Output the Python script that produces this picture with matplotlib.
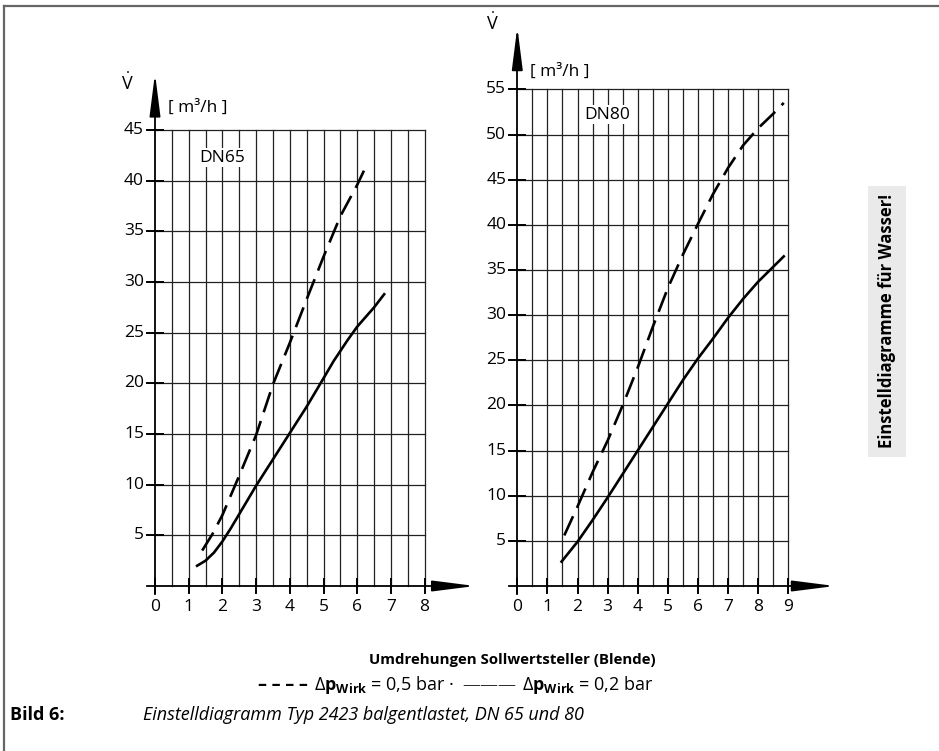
import numpy as np
import matplotlib
matplotlib.use('Agg')
import matplotlib.pyplot as plt
from matplotlib.patches import Rectangle
from matplotlib.lines import Line2D

plt.rcParams['font.family'] = ['Open Sans', 'DejaVu Sans']
plt.rcParams['mathtext.fontset'] = 'custom'
plt.rcParams['mathtext.rm'] = 'Open Sans'
plt.rcParams['mathtext.bf'] = 'Open Sans:bold'
plt.rcParams['mathtext.fallback'] = 'stixsans'

# DN65 curves (revolutions, flow m3/h)
x65_05 = [1.4, 1.7, 2.0, 2.5, 3.0, 3.5, 4.0, 4.5, 5.0, 5.5, 6.0, 6.2]
v65_05 = [3.5, 5.1, 7.0, 10.9, 14.9, 19.9, 24.0, 28.3, 32.5, 36.5, 39.6, 41.0]
x65_02 = [1.25, 1.5, 1.75, 2.0, 2.25, 2.5, 3.0, 3.5, 4.0, 4.5, 5.0, 5.3, 5.7, 6.0, 6.5, 6.8]
v65_02 = [2.0, 2.5, 3.3, 4.4, 5.7, 7.1, 9.9, 12.5, 15.1, 17.7, 20.5, 22.2, 24.2, 25.6, 27.5, 28.8]

# DN80 curves
x80_05 = [1.56, 2.0, 2.5, 3.0, 3.5, 4.0, 4.5, 5.0, 5.5, 6.0, 6.5, 7.0, 7.5, 8.0, 8.5, 8.85]
v80_05 = [5.6, 8.8, 12.6, 16.1, 20.0, 24.2, 28.7, 33.0, 36.7, 40.1, 43.4, 46.3, 48.8, 50.7, 52.3, 53.5]
x80_02 = [1.47, 2.0, 2.5, 3.0, 3.5, 4.0, 4.5, 5.0, 5.5, 6.0, 6.5, 7.0, 7.5, 8.0, 8.85]
v80_02 = [2.7, 4.9, 7.3, 9.8, 12.4, 15.0, 17.6, 20.2, 22.8, 25.2, 27.4, 29.7, 31.8, 33.7, 36.5]

yt65 = list(range(5, 50, 5))
yt80 = list(range(5, 60, 5))
xt65 = list(range(0, 9))
xt80 = list(range(0, 10))

W, H = 939, 751
fig = plt.figure(figsize=(W / 100, H / 100), dpi=100)


def make_ax(x0, sx, y0, sy, xlim, ylim):
    left = (x0 + xlim[0] * sx) / W
    width = (xlim[1] - xlim[0]) * sx / W
    bottom = (H - (y0 - ylim[0] * sy)) / H
    height = (ylim[1] - ylim[0]) * sy / H
    ax = fig.add_axes([left, bottom, width, height])
    ax.set_xlim(xlim)
    ax.set_ylim(ylim)
    ax.patch.set_alpha(0)
    return ax


def draw_chart(ax, xt, yt, xmax, ymax, sx, sy, tip_y, arrow_x):
    # grid
    for xv in np.arange(0.5, xmax + 0.01, 0.5):
        ax.plot([xv, xv], [0, ymax], color='#222222', lw=0.9, zorder=1)
    for yv in yt:
        ax.plot([0, xmax], [yv, yv], color='#222222', lw=0.9, zorder=1)
    # axes lines with arrows
    ax.plot([-8 / sx, arrow_x[0]], [0, 0], color='black', lw=1.3, zorder=3)
    ax.plot([0, 0], [-8 / sy, tip_y - 36 / sy], color='black', lw=1.3, zorder=3)
    head = dict(arrowstyle='-|>,head_length=2.6,head_width=0.33', color='black',
                lw=1.3, shrinkA=0, shrinkB=0, mutation_scale=10)
    ax.annotate('', xy=(arrow_x[1], 0), xytext=(arrow_x[0], 0), arrowprops=head)
    ax.annotate('', xy=(0, tip_y), xytext=(0, tip_y - 37 / sy), arrowprops=head)
    # ticks and labels
    for xv in xt:
        ax.plot([xv, xv], [-7 / sy, 7 / sy], color='black', lw=1.4, zorder=3)
        ax.text(xv, -13 / sy, str(xv), ha='center', va='top', fontsize=12.5)
    for yv in yt:
        ax.plot([-8 / sx, 8 / sx], [yv, yv], color='black', lw=1.4, zorder=3)
        ax.text(-11 / sx, yv, str(yv), ha='right', va='center', fontsize=12.5)
    ax.axis('off')


# left chart DN65
sx1, sy1 = 33.7, 10.13
ax1 = make_ax(155, sx1, 586, sy1, (-1.5, 10), (-3, 52))
draw_chart(ax1, xt65, yt65, 8, 45, sx1, sy1, 50.6, (8.4, 9.5))
ax1.plot(x65_05, v65_05, color='black', lw=1.9, dashes=(8, 3.5), zorder=4)
ax1.plot(x65_02, v65_02, color='black', lw=1.9, zorder=4)
ax1.text(2.0, 42.3, 'DN65', ha='center', va='center', fontsize=12.5,
         bbox=dict(facecolor='white', edgecolor='none', pad=1), zorder=5)
ax1.text(-28 / sx1, 49.6, r'$\dot{\mathrm{V}}$', ha='center', va='center', fontsize=13)
ax1.text(13 / sx1, 47.2, '[ m³/h ]', ha='left', va='center', fontsize=12.5)

# right chart DN80
sx2, sy2 = 30.11, 9.03
ax2 = make_ax(517.3, sx2, 586, sy2, (-1.3, 11), (-3, 64))
draw_chart(ax2, xt80, yt80, 9, 55, sx2, sy2, 61.9, (9.35, 10.55))
ax2.plot(x80_05, v80_05, color='black', lw=1.9, dashes=(8, 3.5), zorder=4)
ax2.plot(x80_02, v80_02, color='black', lw=1.9, zorder=4)
ax2.text(3.0, 52.2, 'DN80', ha='center', va='center', fontsize=12.5,
         bbox=dict(facecolor='white', edgecolor='none', pad=1), zorder=5)
ax2.text(-25 / sx2, 62.3, r'$\dot{\mathrm{V}}$', ha='center', va='center', fontsize=13)
ax2.text(13 / sx2, 56.9, '[ m³/h ]', ha='left', va='center', fontsize=12.5)

# frame
fig.add_artist(Line2D([4 / W, 1], [1 - 6 / H, 1 - 6 / H], color='#666666', lw=1.6))
fig.add_artist(Line2D([4 / W, 4 / W], [0, 1 - 6 / H], color='#666666', lw=1.6))

# side note
fig.add_artist(Rectangle((868 / W, 1 - 457 / H), 38 / W, 271 / H,
                         facecolor='#e9eae9', edgecolor='none'))
fig.text(887 / W, 1 - 321 / H, 'Einstelldiagramme für Wasser!', rotation=90,
         ha='center', va='center', fontsize=12, fontweight='bold')

# bottom texts
fig.text(512 / W, 1 - 660 / H, 'Umdrehungen Sollwertsteller (Blende)',
         ha='center', va='center', fontsize=10.8, fontweight='bold')

# legend line, pieces placed one after another on a common baseline
renderer = fig.canvas.get_renderer()
parts = [('– – – –', 'bold', 6),
         (r'$\Delta\mathbf{p}_{\mathbf{Wirk}}$ = 0,5 bar ·', 'normal', 8),
         ('———', 'light', 6),
         (r'$\Delta\mathbf{p}_{\mathbf{Wirk}}$ = 0,2 bar', 'normal', 0)]
xpos = 258
for txt, wt, gap in parts:
    t = fig.text(xpos / W, 1 - 690 / H, txt, ha='left', va='baseline',
                 fontsize=13, fontweight=wt)
    xpos += t.get_window_extent(renderer).width + gap

fig.text(10 / W, 1 - 715 / H, 'Bild 6:', ha='left', va='center',
         fontsize=13, fontweight='bold')
fig.text(143 / W, 1 - 715 / H, 'Einstelldiagramm Typ 2423 balgentlastet, DN 65 und 80',
         ha='left', va='center', fontsize=13, style='italic')

fig.savefig('out.png', dpi=100)
